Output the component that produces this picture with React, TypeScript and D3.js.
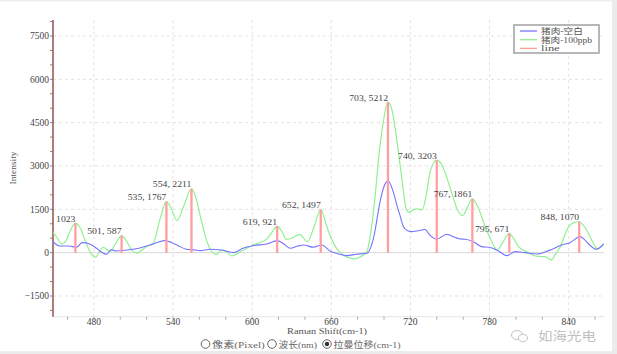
import { useEffect, useRef } from 'react'
import * as d3 from 'd3'

// 拉曼位移 (cm-1) / 强度
const greenX = [449, 452, 455.6, 459, 462, 466, 470, 474, 478, 481.4, 484, 487.2, 490, 492.2, 496, 501, 505, 509, 512.5, 516, 520, 525, 530, 535, 539, 543, 548, 554, 558, 560.5, 565.6, 570, 573, 577, 581, 584.5, 591, 600, 611, 615, 619, 623, 626, 631, 636, 642, 647, 652, 656, 659, 664, 669, 673, 678, 683, 687, 692, 697, 699.5, 703, 706, 708.4, 713.5, 717, 719, 722, 725, 729, 732, 735, 740, 743, 746, 752.6, 756, 759.7, 763, 767, 771, 776.7, 781, 786, 790, 795, 798, 802, 809.6, 814.6, 818, 822, 826.7, 830, 833.6, 837, 840, 844, 848, 851, 855, 859, 862, 866.6]
const greenY = [700, 520, 300, 420, 750, 1023, 820, 350, -50, -160, 20, 187, 100, 35, 280, 587, 380, 60, -20, 80, 208, 325, 1133, 1767, 1500, 1110, 1600, 2211, 1800, 1300, 400, 0, -60, 90, 20, -115, 30, 250, 470, 700, 921, 700, 460, 520, 636, 380, 900, 1497, 1000, 600, 150, -80, -170, -218, -120, 35, 1420, 3730, 4540, 5212, 4943, 4310, 2577, 1480, 1400, 1480, 1514, 1480, 2000, 2806, 3203, 3100, 2806, 1884, 1450, 1282, 1550, 1861, 1600, 900, 450, 94, 350, 671, 500, 208, 0, -115, -130, -138, -253, -50, 208, 600, 900, 1040, 1070, 950, 672, 300, 128, 300]

const blueX = [449, 454, 460.6, 467, 471, 477, 482, 485, 489.7, 493, 497, 505, 514, 522.6, 528, 534, 539, 543, 550, 557, 560.5, 568, 577, 586, 593, 601, 611, 619, 624, 629, 634, 639, 646.5, 652.8, 659, 665, 672, 679, 687, 692, 697, 699.5, 703, 707, 709.7, 712, 714.7, 718, 721, 726, 731, 735, 740, 744, 747.6, 752, 757.7, 761.5, 767.8, 774, 780, 786.8, 793, 799.5, 807, 816, 824.7, 834.8, 841, 848.7, 852, 856, 861, 866.6]
const blueY = [380, 232, 232, 187, 346, 300, 152, 40, -55, 100, 59, 94, 152, 266, 350, 415, 350, 266, 118, 94, 70, 118, 94, 0, 152, 243, 300, 415, 300, 152, 220, 266, 187, 266, 59, -40, -104, -55, -20, 498, 1767, 2230, 2484, 2113, 1652, 1306, 900, 760, 727, 760, 800, 600, 464, 560, 637, 560, 475, 464, 380, 208, 187, 59, -104, 35, 0, -45, 70, 266, 346, 555, 450, 266, 118, 300]

// 峰位标注
const peakX = [466, 501, 535, 554, 619, 652, 703, 740, 767, 795, 848, 896]
const peakY = [1023, 587, 1767, 2211, 921, 1497, 5212, 3203, 1861, 671, 1070, 1440]

const xTicks = [480, 540, 600, 660, 720, 780, 840]
const yTicks = [-1500, 0, 1500, 3000, 4500, 6000, 7500]

const legendNames = ['猪肉-空白', '猪肉-100ppb', 'line']
const legendColors = ['#7474ff', '#90f090', '#ff9e9e']

const radioLabels = ['像素(Pixel)', '波长(nm)', '拉曼位移(cm-1)']

const SERIF = '"Liberation Serif", "DejaVu Serif", "Noto Sans CJK SC", serif'
const CJK = '"Liberation Serif", "Noto Sans CJK SC", serif'

// 宋体风格: 汉字 1em, 西文 0.5em
const textWidth = (s: string, em: number) =>
  Array.from(s).reduce((w, c) => w + (c.charCodeAt(0) > 255 ? em : em / 2), 0)

const App = () => {
  const chartRef = useRef<SVGSVGElement | null>(null)

  useEffect(() => {
    if (!chartRef.current) return
    const svg = d3.select(chartRef.current)
    svg.selectAll('*').remove()

    const left = 53
    const right = 604
    const top = 20
    const bottom = 316.7

    const x = d3.scaleLinear().domain([449, 866.8]).range([left, right])
    const y = d3.scaleLinear().domain([-2217, 8054]).range([bottom, top])

    // 外框
    svg.append('rect').attr('x', 0).attr('y', 0).attr('width', 617).attr('height', 1.5).attr('fill', '#eeeeee')
    svg.append('rect').attr('x', 612).attr('y', 0).attr('width', 5).attr('height', 354).attr('fill', '#ececec')
    svg.append('rect').attr('x', 0).attr('y', 351).attr('width', 617).attr('height', 3).attr('fill', '#ececec')

    svg.append('defs').append('clipPath').attr('id', 'plot-clip')
      .append('rect')
      .attr('x', left).attr('y', top)
      .attr('width', right - left).attr('height', bottom - top)

    // 网格
    svg.append('g').selectAll('line')
      .data(xTicks)
      .enter()
      .append('line')
      .attr('x1', d => x(d)).attr('x2', d => x(d))
      .attr('y1', top).attr('y2', bottom)
      .attr('stroke', '#e2e2e2')
      .attr('stroke-dasharray', '3,3')

    svg.append('g').selectAll('line')
      .data(yTicks)
      .enter()
      .append('line')
      .attr('x1', left).attr('x2', right)
      .attr('y1', d => y(d)).attr('y2', d => y(d))
      .attr('stroke', d => (d === 0 ? '#d8d8d8' : '#e2e2e2'))
      .attr('stroke-dasharray', d => (d === 0 ? null : '3,3'))

    // 坐标轴
    svg.append('line')
      .attr('x1', left).attr('x2', right)
      .attr('y1', bottom).attr('y2', bottom)
      .attr('stroke', '#e4e4e4')

    svg.append('g').selectAll('line')
      .data(d3.range(460, 867, 20))
      .enter()
      .append('line')
      .attr('x1', d => x(d)).attr('x2', d => x(d))
      .attr('y1', bottom).attr('y2', bottom + 3)
      .attr('stroke', '#aaa')

    svg.append('g').selectAll('line')
      .data(d3.range(-2000, 8001, 500))
      .enter()
      .append('line')
      .attr('x1', left - 3).attr('x2', left)
      .attr('y1', d => y(d)).attr('y2', d => y(d))
      .attr('stroke', '#9a8080')

    svg.append('line')
      .attr('x1', left).attr('x2', left)
      .attr('y1', top).attr('y2', bottom)
      .attr('stroke', '#9a5c5c')
      .attr('stroke-width', 1.6)

    svg.append('g').selectAll('text')
      .data(yTicks)
      .enter()
      .append('text')
      .attr('x', left - 4)
      .attr('y', d => y(d) + 3.3)
      .attr('text-anchor', 'end')
      .style('font-family', SERIF)
      .style('font-size', '9.5px')
      .style('fill', '#444')
      .text(d => (d < 0 ? '−' + Math.abs(d) : d))

    svg.append('g').selectAll('text')
      .data(xTicks)
      .enter()
      .append('text')
      .attr('x', d => x(d))
      .attr('y', 325)
      .attr('text-anchor', 'middle')
      .style('font-family', SERIF)
      .style('font-size', '9.5px')
      .style('fill', '#444')
      .text(d => d)

    svg.append('text')
      .attr('transform', 'translate(16,168) rotate(-90)')
      .attr('text-anchor', 'middle')
      .attr('textLength', 33)
      .attr('lengthAdjust', 'spacingAndGlyphs')
      .style('font-family', SERIF)
      .style('font-size', '8px')
      .style('fill', '#555')
      .text('Intensity')

    svg.append('text')
      .attr('x', 327)
      .attr('y', 334)
      .attr('text-anchor', 'middle')
      .attr('textLength', 80)
      .attr('lengthAdjust', 'spacingAndGlyphs')
      .style('font-family', SERIF)
      .style('font-size', '8.5px')
      .style('fill', '#555')
      .text('Raman Shift(cm-1)')

    // 曲线
    const plot = svg.append('g').attr('clip-path', 'url(#plot-clip)')

    const line = d3.line<number>()
      .x(d => x(d[0]))
      .y(d => y(d[1]))
      .curve(d3.curveMonotoneX)

    plot.append('path')
      .datum(d3.zip(greenX, greenY))
      .attr('d', line as any)
      .attr('fill', 'none')
      .attr('stroke', legendColors[1])
      .attr('stroke-width', 1.2)

    plot.append('path')
      .datum(d3.zip(blueX, blueY))
      .attr('d', line as any)
      .attr('fill', 'none')
      .attr('stroke', legendColors[0])
      .attr('stroke-width', 1.1)

    const peaks = d3.zip(peakX, peakY)

    plot.selectAll('.peak')
      .data(peaks)
      .enter()
      .append('line')
      .attr('class', 'peak')
      .attr('x1', d => x(d[0])).attr('x2', d => x(d[0]))
      .attr('y1', y(0)).attr('y2', d => y(d[1]))
      .attr('stroke', legendColors[2])
      .attr('stroke-width', 2.3)

    plot.selectAll('.label')
      .data(peaks)
      .enter()
      .append('text')
      .attr('class', 'label')
      .attr('x', d => x(d[0]))
      .attr('y', d => y(d[1]) - 1.5)
      .attr('text-anchor', 'end')
      .attr('textLength', d => `${d[0]}, ${d[1]}`.length * 4.3)
      .attr('lengthAdjust', 'spacingAndGlyphs')
      .style('font-family', SERIF)
      .style('font-size', '9px')
      .style('fill', '#444')
      .text(d => `${d[0]}, ${d[1]}`)

    // 图例
    const legend = svg.append('g').attr('transform', 'translate(514,25)')
    legend.append('rect')
      .attr('width', 85).attr('height', 28)
      .attr('fill', 'white')
      .attr('stroke', '#a0a0a0')
      .attr('stroke-width', 1.5)
    legendNames.forEach((name, i) => {
      const ly = 6 + i * 8.7
      legend.append('line')
        .attr('x1', 6).attr('x2', 23)
        .attr('y1', ly).attr('y2', ly)
        .attr('stroke', legendColors[i])
        .attr('stroke-width', 1.3)
      legend.append('text')
        .attr('x', 27)
        .attr('y', ly + 3)
        .attr('textLength', textWidth(name, 9.3))
        .attr('lengthAdjust', 'spacingAndGlyphs')
        .style('font-family', CJK)
        .style('font-size', '8.5px')
        .style('fill', '#555')
        .text(name)
    })

    // 单选按钮
    const radioX = [205.5, 272, 327]
    radioLabels.forEach((label, i) => {
      svg.append('circle')
        .attr('cx', radioX[i]).attr('cy', 344)
        .attr('r', 4.3)
        .attr('fill', 'white')
        .attr('stroke', '#666')
      if (i === 2) {
        svg.append('circle')
          .attr('cx', radioX[i]).attr('cy', 344)
          .attr('r', 2.2)
          .attr('fill', '#333')
      }
      svg.append('text')
        .attr('x', radioX[i] + 6.5)
        .attr('y', 347.5)
        .attr('textLength', textWidth(label, 9.6))
        .attr('lengthAdjust', 'spacingAndGlyphs')
        .style('font-family', CJK)
        .style('font-size', '9px')
        .style('fill', '#666')
        .text(label)
    })

    // 水印
    const mark = svg.append('g').attr('stroke', '#c4c4c4').attr('fill', 'none').attr('stroke-width', 1)
    mark.append('ellipse').attr('cx', 517).attr('cy', 335).attr('rx', 5.5).attr('ry', 4.5)
    mark.append('ellipse').attr('cx', 523).attr('cy', 338).attr('rx', 4.5).attr('ry', 3.8).attr('fill', 'white')
    svg.append('text')
      .attr('x', 538)
      .attr('y', 341)
      .attr('textLength', 58)
      .attr('lengthAdjust', 'spacingAndGlyphs')
      .style('font-family', '"Noto Sans CJK SC", sans-serif')
      .style('font-size', '12.5px')
      .style('fill', '#c0c0c0')
      .text('如海光电')
  }, [])

  return (
    <div style={{ position: 'absolute', left: 0, top: 0 }}>
      <svg ref={chartRef} width={617} height={354} style={{ display: 'block', background: 'white' }} />
    </div>
  )
}

export default App
